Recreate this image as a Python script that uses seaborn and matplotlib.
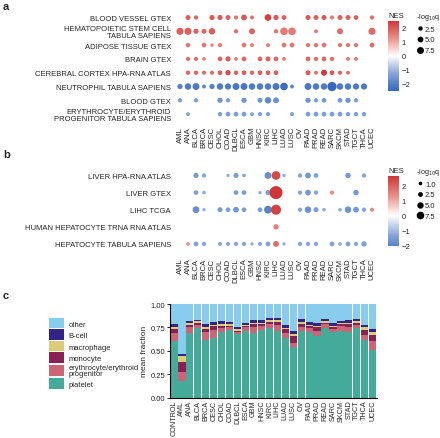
import numpy as np
import pandas as pd
import matplotlib
matplotlib.use("Agg")
import matplotlib.pyplot as plt
import seaborn as sns
from matplotlib.colors import LinearSegmentedColormap, Normalize
from matplotlib.cm import ScalarMappable
from matplotlib.lines import Line2D
from matplotlib.patches import Patch

N = np.nan
cancers = ["AML", "ANA", "BLCA", "BRCA", "CESC", "CHOL", "COAD", "DLBCL", "ESCA", "GBM",
           "HNSC", "KIRC", "LIHC", "LUAD", "LUSC", "OV", "PAAD", "PRAD", "READ", "SARC",
           "SKCM", "STAD", "TGCT", "THCA", "UCEC"]

# ---- panel a: blood / vascular gene sets
sets_a = ["BLOOD VESSEL GTEX", "HEMATOPOIETIC STEM CELL\nTABULA SAPIENS", "ADIPOSE TISSUE GTEX",
          "BRAIN GTEX", "CEREBRAL CORTEX HPA-RNA ATLAS", "NEUTROPHIL TABULA SAPIENS",
          "BLOOD GTEX", "ERYTHROCYTE/ERYTHROID\nPROGENITOR TABULA SAPIENS"]
nes_a = [
    [N, 1.9, 1.8, N, 2.0, 2.0, 1.9, 1.7, 2.0, 1.7, N, 2.3, 2.0, 1.9, N, N, 2.0, 1.9, 2.0, 1.6, 1.9, 1.9, 1.9, N, 1.7],
    [1.9, 1.9, 1.8, 1.8, 1.9, N, N, 1.7, N, 1.8, N, N, 1.6, 1.5, 1.5, N, N, 1.5, N, N, 1.7, N, N, N, 1.7],
    [N, 1.6, N, 1.6, 1.4, 1.5, N, N, 1.6, 1.5, N, 1.5, N, 1.6, 1.6, N, 1.6, 1.6, 1.6, N, 1.6, 1.6, 1.6, N, 1.7],
    [N, 1.7, 1.7, 1.5, N, 1.8, 1.9, 1.6, 1.8, N, 1.8, 1.8, 1.8, 1.6, N, N, 1.8, 1.7, 1.8, 1.7, N, 1.6, 1.6, N, N],
    [N, 1.8, 1.8, 1.7, 1.7, 1.9, 2.2, 1.9, 1.9, 1.8, 1.9, 1.9, 1.9, N, N, N, 2.0, 1.7, 2.45, 2.0, 1.8, 1.7, N, N, N],
    [-2.0, -2.1, -2.1, -1.9, -2.0, -2.1, -2.1, -2.2, -2.2, -2.1, -2.1, -2.1, -2.2, -2.4, -1.9, N, -2.2, -2.1, -2.1, -2.5, -2.1, -2.1, -2.1, -2.1, N],
    [-1.4, N, -1.4, N, N, -1.6, -1.4, N, -1.6, N, -1.6, -1.8, -1.7, N, N, N, -1.6, -1.4, -1.5, N, -1.5, -1.6, -1.4, N, N],
    [N, -1.3, N, N, N, -1.35, -1.4, -1.4, -1.4, -1.3, -1.35, -1.35, N, N, -1.3, N, -1.4, -1.4, -1.4, -1.4, -1.4, -1.35, -1.35, -1.35, N],
]
q_a = [
    [N, 3.5, 2.3, N, 3.8, 3.8, 3.3, 2.0, 5.0, 1.8, N, 7.0, 4.0, 3.2, N, N, 3.5, 3.5, 3.5, 2.0, 3.5, 3.5, 3.0, N, 2.2],
    [8.0, 8.0, 4.0, 3.5, 6.5, N, N, 2.3, N, 5.5, N, N, 2.5, 9.5, 9.5, N, N, 1.8, N, N, 5.5, N, N, N, 8.0],
    [N, 2.8, N, 3.0, 1.3, 2.3, N, N, 3.0, 1.8, N, 1.8, N, 3.0, 3.0, N, 2.3, 2.6, 3.0, N, 2.3, 2.3, 2.3, N, 3.0],
    [N, 2.2, 2.2, 1.4, N, 3.0, 4.0, 1.4, 3.0, N, 3.0, 3.5, 3.0, 1.5, N, N, 3.0, 2.3, 3.0, 2.3, N, 1.7, 1.7, N, N],
    [N, 2.5, 2.5, 2.2, 2.2, 3.0, 4.0, 2.5, 3.0, 2.5, 3.0, 3.0, 3.0, N, N, N, 3.5, 1.7, 5.5, 3.0, 2.3, 1.7, N, N, N],
    [4.0, 6.5, 7.5, 1.8, 4.0, 6.5, 6.0, 7.5, 7.5, 6.5, 6.5, 6.5, 7.5, 9.5, 1.8, N, 7.5, 6.5, 6.5, 14.0, 6.5, 6.5, 6.0, 6.0, N],
    [2.2, N, 2.2, N, N, 4.0, 2.2, N, 4.0, N, 3.5, 6.5, 5.0, N, N, N, 4.0, 2.2, 3.0, N, 3.0, 4.0, 2.2, N, N],
    [N, 1.7, N, N, N, 2.5, 3.0, 3.0, 3.0, 1.7, 2.2, 2.2, N, N, 2.2, N, 3.0, 3.0, 3.0, 3.0, 3.0, 2.5, 2.5, 2.5, N],
]
size_breaks_a = [2.5, 5.0, 7.5]

# ---- panel b: liver gene sets
sets_b = ["LIVER HPA-RNA ATLAS", "LIVER GTEX", "LIHC TCGA",
          "HUMAN HEPATOCYTE TRNA RNA ATLAS", "HEPATOCYTE TABULA SAPIENS"]
nes_b = [
    [N, N, -1.6, -1.3, N, N, -1.2, -1.5, -1.3, N, N, -1.8, 2.3, -1.2, N, -1.3, -1.6, -1.4, N, N, N, -1.6, N, -1.3, N],
    [N, N, -1.4, -1.2, N, N, N, -1.5, -1.5, N, -1.2, -1.5, 2.6, N, N, -1.3, -1.6, -1.3, N, 1.3, N, N, -1.6, N, N],
    [N, N, -1.8, -1.2, N, -1.5, -1.5, -1.6, -1.5, N, -1.5, -2.0, 2.4, N, N, -1.3, -1.7, -1.5, -1.2, N, -1.2, -1.7, -1.6, -1.3, 1.4],
    [N, N, N, N, N, N, N, N, N, N, N, N, 1.5, N, N, N, N, N, N, N, N, N, N, N, N],
    [N, 1.3, -1.4, -1.3, N, -1.3, -1.3, -1.3, -1.3, -1.2, -1.3, -1.4, 1.8, -1.2, N, -1.3, -1.3, -1.3, N, -1.4, -1.2, -1.4, -1.3, -1.4, N],
]
q_b = [
    [N, N, 2.9, 1.8, N, N, 0.7, 2.9, 1.0, N, N, 5.9, 10.0, 0.7, N, 1.8, 4.0, 2.3, N, N, N, 3.4, N, 1.8, N],
    [N, N, 2.3, 1.0, N, N, N, 2.3, 2.3, N, 0.7, 2.9, 23.7, N, N, 1.8, 4.0, 1.8, N, 1.8, N, N, 3.4, N, N],
    [N, N, 5.9, 0.7, N, 2.9, 2.3, 4.0, 2.3, N, 2.3, 8.2, 13.9, N, N, 1.8, 5.3, 2.9, 1.0, N, 1.0, 5.3, 4.0, 1.8, 1.45],
    [N, N, N, N, N, N, N, N, N, N, N, N, 3.4, N, N, N, N, N, N, N, N, N, N, N, N],
    [N, 1.0, 2.3, 1.8, N, 1.45, 1.45, 1.8, 1.8, 0.7, 1.45, 2.3, 4.0, 0.7, N, 1.8, 1.8, 1.8, N, 2.3, 1.0, 2.3, 1.8, 3.4, N],
]
size_breaks_b = [1.0, 2.5, 5.0, 7.5]

# ---- panel c: deconvolution mean fractions
samples = ["CONTROL"] + cancers
platelet = [0.60, 0.18, 0.69, 0.74, 0.62, 0.64, 0.70, 0.725, 0.68, 0.714, 0.686, 0.725, 0.743,
            0.714, 0.632, 0.543, 0.714, 0.70, 0.66, 0.743, 0.70, 0.714, 0.70, 0.74, 0.614, 0.507]
erythro = [0.09, 0.095, 0.06, 0.04, 0.08, 0.08, 0.04, 0.025, 0.02, 0.036, 0.064, 0.035, 0.043,
           0.061, 0.058, 0.037, 0.043, 0.04, 0.054, 0.043, 0.03, 0.046, 0.05, 0.035, 0.056, 0.093]
monocyte = [0.04, 0.105, 0.03, 0.02, 0.035, 0.04, 0.03, 0.02, 0.015, 0.018, 0.036, 0.026, 0.024,
            0.035, 0.04, 0.074, 0.033, 0.028, 0.036, 0.014, 0.02, 0.026, 0.04, 0.025, 0.055, 0.068]
macrophage = [0.02, 0.065, 0.02, 0.015, 0.02, 0.02, 0.02, 0.016, 0.015, 0.01, 0.014, 0.014, 0.015,
              0.022, 0.016, 0.026, 0.02, 0.012, 0.018, 0.018, 0.018, 0.014, 0.01, 0.018, 0.025, 0.028]
bcell = [0.035, 0.02, 0.02, 0.015, 0.035, 0.03, 0.03, 0.024, 0.027, 0.022, 0.03, 0.03, 0.021,
         0.018, 0.029, 0.027, 0.03, 0.03, 0.028, 0.022, 0.032, 0.02, 0.03, 0.022, 0.03, 0.034]
other = [0.215, 0.535, 0.18, 0.17, 0.21, 0.19, 0.18, 0.19, 0.243, 0.20, 0.17, 0.17, 0.154,
         0.15, 0.225, 0.293, 0.16, 0.19, 0.204, 0.16, 0.20, 0.18, 0.17, 0.16, 0.22, 0.27]
cell_types = ["platelet", "erythrocyte/erythroid\nprogenitor", "monocyte", "macrophage", "B-cell", "other"]
cell_colors = ["#44AA99", "#CC6677", "#882255", "#DDCC77", "#332288", "#88CCEE"]

sns.set_style("white")
plt.rcParams["font.family"] = ["Liberation Sans", "DejaVu Sans"]
plt.rcParams["axes.unicode_minus"] = True

W, H = 440, 439
fig = plt.figure(figsize=(W / 100, H / 100), dpi=100)


def box(l, t, r, b):
    return [l / W, 1 - b / H, (r - l) / W, (b - t) / H]


cmap = LinearSegmentedColormap.from_list(
    "nes", [(0, "#3668BC"), (0.25, "#86A6DA"), (0.5, "#FFFFFF"), (0.75, "#E98F88"), (1, "#D03434")])
FS = 5.5


def long_table(sets, nes, q):
    rows = []
    for yi, name in enumerate(sets):
        for xi, c in enumerate(cancers):
            if not np.isnan(nes[yi][xi]):
                rows.append({"set": name, "cancer": c, "xi": xi, "yi": yi,
                             "nes": nes[yi][xi], "q": q[yi][xi]})
    return pd.DataFrame(rows)


def dot_panel(rect, sets, nes, q, sizes, size_norm, breaks, cbar_rect, leg_y):
    df = long_table(sets, nes, q)
    m = df["nes"].abs().max()
    ax = fig.add_axes(rect)
    sns.scatterplot(data=df, x="xi", y="yi", hue="nes", size="q", palette=cmap,
                    hue_norm=(-m, m), sizes=sizes, size_norm=size_norm,
                    linewidth=0, legend=False, ax=ax)
    ax.set_xlim(-0.7, len(cancers) - 0.3)
    ax.set_ylim(len(sets) - 0.4, -0.6)
    ax.set_xticks(range(len(cancers)))
    ax.set_xticklabels(cancers, rotation=90, fontsize=FS)
    ax.set_yticks(range(len(sets)))
    ax.set_yticklabels(sets, fontsize=FS)
    for t in ax.get_yticklabels():
        t.set_multialignment("right")
        t.set_linespacing(1.0)
    ax.tick_params(length=0, pad=2.5)
    ax.set_xlabel("")
    ax.set_ylabel("")
    sns.despine(ax=ax, left=True, bottom=True)

    # colour bar limited to data range
    lo, hi = df["nes"].min(), df["nes"].max()
    sub = LinearSegmentedColormap.from_list(
        "sub", cmap(np.linspace((lo + m) / (2 * m), (hi + m) / (2 * m), 256)))
    cax = fig.add_axes(cbar_rect)
    cb = fig.colorbar(ScalarMappable(norm=Normalize(lo, hi), cmap=sub), cax=cax)
    cb.outline.set_visible(False)
    cb.set_ticks([t for t in [-2, -1, 0, 1, 2] if lo <= t + 0.05 and t <= hi])
    cax.tick_params(labelsize=FS, length=2, width=0.5, color="white", direction="in", pad=2,
                    left=True, right=True)
    cax.set_title("NES", fontsize=FS, loc="left", pad=3)

    smin, smax = sizes
    nmin, nmax = size_norm
    handles = [Line2D([], [], marker="o", ls="", color="black", markeredgewidth=0,
                      markersize=np.sqrt(smin + (smax - smin) * (v - nmin) / (nmax - nmin)))
               for v in breaks]
    fig.legend(handles, [f"{v:.1f}" for v in breaks], title="-log$_{10}$q",
               loc="upper left", bbox_to_anchor=(412 / W, 1 - leg_y / H), frameon=False,
               fontsize=FS, title_fontsize=5.2, handletextpad=0.0, labelspacing=0.45,
               borderpad=0, handlelength=1.2, alignment="left")
    return ax


dot_panel(box(174.4, 10.2, 377.6, 123.4), sets_a, nes_a, q_a, (2.6, 62.0), (0, 20),
          size_breaks_a, box(388, 22, 399, 92), 8)
dot_panel(box(174.4, 166.2, 377.6, 255.2), sets_b, nes_b, q_b, (3.2, 92.0), (0, 25),
          size_breaks_b, box(388, 177, 399, 247), 163)

# ---- panel c: stacked bars drawn from the top layer down
axc = fig.add_axes(box(170, 305, 376.7, 398.5))
layers = [platelet, erythro, monocyte, macrophage, bcell, other]
cum = np.cumsum(np.array(layers), axis=0)
for i in range(len(layers) - 1, -1, -1):
    sns.barplot(x=samples, y=cum[i], order=samples, color=cell_colors[i], width=0.9,
                saturation=1, linewidth=0, ax=axc)
axc.set_xlim(-0.5, len(samples) - 0.5)
axc.set_ylim(0, 1)
axc.set_yticks([0, 0.25, 0.5, 0.75, 1.0])
axc.set_yticklabels(["0.00", "0.25", "0.50", "0.75", "1.00"], fontsize=FS)
axc.set_xticks(range(len(samples)))
axc.set_xticklabels(samples, rotation=90, fontsize=5.2)
axc.tick_params(axis="y", length=2, width=0.6, pad=1.5, left=True, color="black")
axc.tick_params(axis="x", length=0, pad=1.5, bottom=True)
axc.set_ylabel("mean fraction", fontsize=6, labelpad=2)
axc.set_xlabel("")
sns.despine(ax=axc)
for s in ["left", "bottom"]:
    axc.spines[s].set_color("black")
    axc.spines[s].set_linewidth(0.8)

handles = [Patch(facecolor=c, edgecolor="none") for c in cell_colors[::-1]]
leg = fig.legend(handles, cell_types[::-1], loc="upper left",
                 bbox_to_anchor=(45 / W, 1 - 315 / H), frameon=False, fontsize=FS,
                 handlelength=2.0, handleheight=1.75, labelspacing=0.12, handletextpad=0.6,
                 borderpad=0)
for t in leg.get_texts():
    t.set_linespacing(0.9)

for letter, y in [("a", 7), ("b", 155), ("c", 296)]:
    fig.text(3 / W, 1 - y / H, letter, fontsize=8, fontweight="bold", va="center")

fig.savefig("out.png", dpi=100)
